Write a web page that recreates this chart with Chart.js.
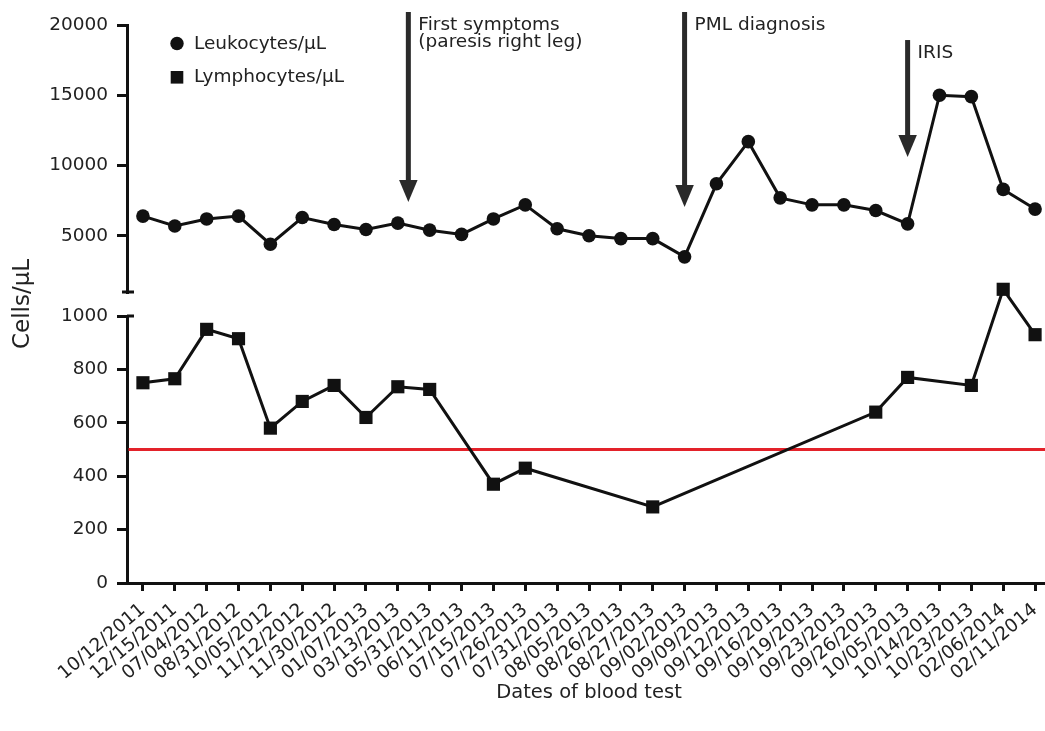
<!DOCTYPE html>
<html>
<head>
<meta charset="utf-8">
<script src="https://cdn.jsdelivr.net/npm/chart.js@4.4.1/dist/chart.umd.min.js"></script>
<style>
html,body{margin:0;padding:0;overflow:hidden;background:#fff;}
canvas{display:block;}
</style>
</head>
<body>
<canvas id="c" width="1051" height="731"></canvas>
<script>
// ---------------- data ----------------
const dates = ['10/12/2011','12/15/2011','07/04/2012','08/31/2012','10/05/2012','11/12/2012','11/30/2012',
  '01/07/2013','03/13/2013','05/31/2013','06/11/2013','07/15/2013','07/26/2013','07/31/2013','08/05/2013',
  '08/26/2013','08/27/2013','09/02/2013','09/09/2013','09/12/2013','09/16/2013','09/19/2013','09/23/2013',
  '09/26/2013','10/05/2013','10/14/2013','10/23/2013','02/06/2014','02/11/2014'];
const leukocytes = [6400,5700,6200,6400,4400,6300,5800,5450,5900,5400,5100,6200,7200,5500,5000,
  4800,4800,3500,8700,11700,7700,7200,7200,6800,5850,15000,14900,8300,6900];
const lymphocytes = [750,765,950,915,580,680,740,620,735,725,null,370,430,null,null,
  null,285,null,null,null,null,null,null,640,770,null,740,1100,930];
const upperTicks = [1000,5000,10000,15000,20000];
const lowerTicks = [0,200,400,600,800,1000];
const lymphThreshold = 500;
// event arrows: position (category index), arrow top and tip in leukocyte-axis units
const eventLabels = [['First symptoms','(paresis right leg)'],['PML diagnosis'],['IRIS']];
const eventIndex = [8.33, 17, 24];
const eventTop = [20925, 20925, 18930];
const eventTip = [7400, 7040, 10600];

const FONT = 'DejaVu Sans';
const INK = '#111';
const TXT = '#222';
const FS = 18.5;

// ---------------- plugins ----------------
const thresholdPlugin = {
  id: 'threshold',
  beforeDatasetsDraw(chart) {
    const {ctx, chartArea} = chart;
    const y = chart.scales.yLower.getPixelForValue(lymphThreshold);
    ctx.save();
    ctx.strokeStyle = '#e3222a';
    ctx.lineWidth = 3;
    ctx.beginPath();
    ctx.moveTo(chartArea.left + 1.5, y);
    ctx.lineTo(chartArea.right, y);
    ctx.stroke();
    ctx.restore();
  }
};

const decorPlugin = {
  id: 'decor',
  afterDraw(chart) {
    const {ctx, chartArea} = chart;
    const xs = chart.scales.x, ys = chart.scales.yUpper, yl = chart.scales.yLower;
    ctx.save();
    // axis break caps
    ctx.strokeStyle = INK;
    ctx.lineWidth = 3;
    ctx.beginPath();
    const yb1 = ys.getPixelForValue(ys.min);
    ctx.moveTo(chartArea.left - 5, yb1); ctx.lineTo(chartArea.left + 7, yb1);
    const yb2 = yl.getPixelForValue(yl.max);
    ctx.moveTo(chartArea.left, yb2); ctx.lineTo(chartArea.left + 7, yb2);
    ctx.stroke();

    // event arrows
    for (let i = 0; i < eventLabels.length; i++) {
      const px = xs.getPixelForValue(eventIndex[i]);
      const top = ys.getPixelForValue(eventTop[i]);
      const tip = ys.getPixelForValue(eventTip[i]);
      const headH = 22, headW = 18.5;
      ctx.fillStyle = '#2a2a2a';
      ctx.fillRect(px - 2.5, top, 5, tip - headH - top + 1);
      ctx.beginPath();
      ctx.moveTo(px - headW / 2, tip - headH);
      ctx.lineTo(px + headW / 2, tip - headH);
      ctx.lineTo(px, tip);
      ctx.closePath();
      ctx.fill();
      ctx.fillStyle = TXT;
      ctx.font = FS + 'px "' + FONT + '"';
      ctx.textAlign = 'left';
      ctx.textBaseline = 'alphabetic';
      eventLabels[i].forEach((t, k) => ctx.fillText(t, px + 10, top + 18 + k * 17));
    }

    // legend
    const ds = chart.data.datasets;
    const lx = chartArea.left + 50;
    ctx.font = FS + 'px "' + FONT + '"';
    ctx.textBaseline = 'middle';
    ctx.fillStyle = INK;
    ctx.beginPath();
    ctx.arc(lx, chartArea.top + 18.5, 6.7, 0, Math.PI * 2);
    ctx.fill();
    ctx.fillRect(lx - 6.3, chartArea.top + 52.3 - 6.3, 12.6, 12.6);
    ctx.fillStyle = TXT;
    ctx.fillText(ds[0].label, lx + 17, chartArea.top + 19.5);
    ctx.fillText(ds[1].label, lx + 17, chartArea.top + 52.5);

    // y axis title
    ctx.save();
    ctx.translate(23, (chartArea.top + chartArea.bottom) / 2);
    ctx.rotate(-Math.PI / 2);
    ctx.textAlign = 'center';
    ctx.textBaseline = 'middle';
    ctx.font = '23px "' + FONT + '"';
    ctx.fillText('Cells/µL', 0, 0);
    ctx.restore();
    ctx.restore();
  }
};

// ---------------- chart ----------------
const tickFont = {family: FONT, size: FS};
function yAxis(extra) {
  return Object.assign({
    type: 'linear',
    position: 'left',
    stack: 'cells',
    grid: {display: true, drawOnChartArea: false, drawTicks: true, tickLength: 10, tickWidth: 3, tickColor: INK, lineWidth: 3, color: INK},
    border: {display: true, width: 3, color: INK},
    ticks: {color: TXT, font: tickFont, padding: 9, callback: v => String(v)},
    afterFit(s) { s.width = 127; }
  }, extra);
}

new Chart(document.getElementById('c'), {
  type: 'line',
  data: {
    labels: dates,
    datasets: [
      {label: 'Leukocytes/µL', data: leukocytes, yAxisID: 'yUpper', borderColor: INK, borderWidth: 3,
       pointStyle: 'circle', pointRadius: 6.8, pointBackgroundColor: INK, pointBorderColor: INK, pointBorderWidth: 0,
       tension: 0, clip: false},
      {label: 'Lymphocytes/µL', data: lymphocytes, yAxisID: 'yLower', borderColor: INK, borderWidth: 3,
       pointStyle: 'rect', pointRadius: 9.3, pointBackgroundColor: INK, pointBorderColor: INK, pointBorderWidth: 0,
       tension: 0, spanGaps: true, clip: false}
    ]
  },
  options: {
    responsive: false,
    animation: false,
    events: [],
    layout: {autoPadding: false, padding: {top: 25, right: 0, bottom: 22, left: 0}},
    plugins: {legend: {display: false}, tooltip: {enabled: false}},
    scales: {
      x: {
        type: 'category',
        offset: true,
        grid: {display: true, drawOnChartArea: false, drawTicks: true, tickLength: 8, tickWidth: 3, tickColor: INK, lineWidth: 3, color: INK, offset: false},
        border: {display: true, width: 3, color: INK},
        ticks: {autoSkip: false, minRotation: 40, maxRotation: 40, padding: 8, color: TXT, font: tickFont},
        title: {display: true, text: 'Dates of blood test', color: TXT, font: {family: FONT, size: 19.5}, padding: {top: 0, bottom: 4}},
        afterFit(s) { s.height = 126; s.paddingRight = 0; }
      },
      yUpper: yAxis({stackWeight: 267, weight: 3, min: 1000, max: 20000,
        afterBuildTicks(s) { s.ticks = upperTicks.map(v => ({value: v})); },
        ticks: {color: TXT, font: tickFont, padding: 9, callback: v => (v === upperTicks[0] ? '' : String(v))},
        grid: {display: true, drawOnChartArea: false, drawTicks: true, tickLength: 10, tickWidth: 3, lineWidth: 3, color: INK,
               tickColor: ctx => (ctx.tick && ctx.tick.value === upperTicks[0] ? 'rgba(0,0,0,0)' : INK)}}),
      yGap: {type: 'linear', position: 'left', stack: 'cells', stackWeight: 24, weight: 2, min: 0, max: 1,
        grid: {display: false}, border: {display: false}, ticks: {display: false},
        afterFit(s) { s.width = 127; }},
      yLower: yAxis({stackWeight: 267, weight: 1, min: 0, max: 1000,
        afterBuildTicks(s) { s.ticks = lowerTicks.map(v => ({value: v})); }})
    }
  },
  plugins: [thresholdPlugin, decorPlugin]
});
</script>
</body>
</html>
